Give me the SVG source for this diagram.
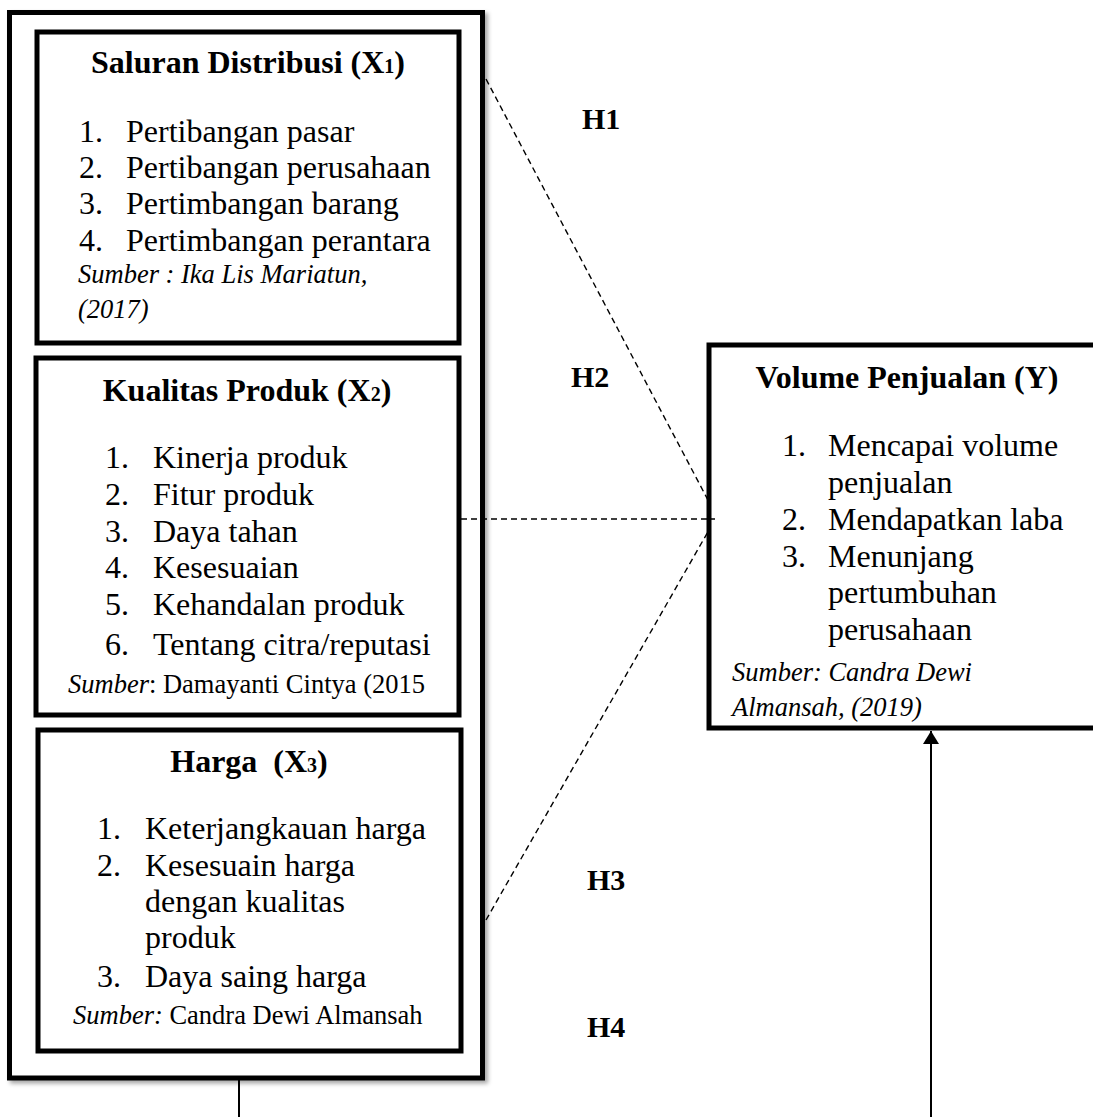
<svg xmlns="http://www.w3.org/2000/svg" width="1093" height="1117" viewBox="0 0 1093 1117">
<defs>
<filter id="shadow" x="-5%" y="-5%" width="115%" height="115%">
<feDropShadow dx="3" dy="3" stdDeviation="2" flood-color="#000" flood-opacity="0.35"/>
</filter>
<marker id="arrow" markerUnits="userSpaceOnUse" markerWidth="14" markerHeight="16" refX="13" refY="8" orient="auto" viewBox="0 0 14 16">
<path d="M0,0 L13,8 L0,16 Z" fill="#000"/>
</marker>
</defs>
<style>
text{font-family:"Liberation Serif","Times New Roman",serif;fill:#000}
.title{font-size:32px;font-weight:bold;text-anchor:middle}
.sub{font-size:20px}
.item{font-size:32px}
.src{font-size:26.5px}
.it{font-style:italic}
.hl{font-size:30px;font-weight:bold}
.box{fill:#fff;stroke:#000;stroke-width:5}
.dash{fill:none;stroke:#000;stroke-width:1.4;stroke-dasharray:6 4}
.solid{fill:none;stroke:#000;stroke-width:2}
</style>
<rect width="1093" height="1117" fill="#fff"/>

<g id="independent-variables">
<rect x="9.5" y="12.5" width="473" height="1065.5" class="box" filter="url(#shadow)"/>

<g id="saluran-distribusi">
<rect x="37" y="32" width="422" height="311" class="box"/>
<text x="248" y="73" class="title">Saluran Distribusi (X<tspan class="sub">1</tspan>)</text>
<text class="item"><tspan x="79" y="142">1.</tspan><tspan x="126" y="142">Pertibangan pasar</tspan></text>
<text class="item"><tspan x="79" y="178">2.</tspan><tspan x="126" y="178">Pertibangan perusahaan</tspan></text>
<text class="item"><tspan x="79" y="214">3.</tspan><tspan x="126" y="214">Pertimbangan barang</tspan></text>
<text class="item"><tspan x="79" y="251">4.</tspan><tspan x="126" y="251">Pertimbangan perantara</tspan></text>
<text x="78" y="283" class="src it">Sumber : Ika Lis Mariatun,</text>
<text x="78" y="318" class="src it">(2017)</text>
</g>

<g id="kualitas-produk">
<rect x="36" y="358" width="423" height="357" class="box"/>
<text x="247" y="401" class="title">Kualitas Produk (X<tspan class="sub">2</tspan>)</text>
<text class="item"><tspan x="105" y="468">1.</tspan><tspan x="153" y="468">Kinerja produk</tspan></text>
<text class="item"><tspan x="105" y="505">2.</tspan><tspan x="153" y="505">Fitur produk</tspan></text>
<text class="item"><tspan x="105" y="542">3.</tspan><tspan x="153" y="542">Daya tahan</tspan></text>
<text class="item"><tspan x="105" y="578">4.</tspan><tspan x="153" y="578">Kesesuaian</tspan></text>
<text class="item"><tspan x="105" y="615">5.</tspan><tspan x="153" y="615">Kehandalan produk</tspan></text>
<text class="item"><tspan x="105" y="655">6.</tspan><tspan x="153" y="655">Tentang citra/reputasi</tspan></text>
<text x="68" y="693" class="src"><tspan class="it">Sumber</tspan>: Damayanti Cintya (2015</text>
</g>

<g id="harga">
<rect x="38" y="730" width="423" height="321" class="box"/>
<text x="249" y="772" class="title" xml:space="preserve">Harga  (X<tspan class="sub">3</tspan>)</text>
<text class="item"><tspan x="97" y="839">1.</tspan><tspan x="145" y="839">Keterjangkauan harga</tspan></text>
<text class="item"><tspan x="97" y="876">2.</tspan><tspan x="145" y="876">Kesesuain harga</tspan></text>
<text x="145" y="912" class="item">dengan kualitas</text>
<text x="145" y="948" class="item">produk</text>
<text class="item"><tspan x="97" y="987">3.</tspan><tspan x="145" y="987">Daya saing harga</tspan></text>
<text x="73" y="1024" class="src"><tspan class="it">Sumber:</tspan> Candra Dewi Almansah</text>
</g>
</g>

<g id="volume-penjualan">
<rect x="709" y="345" width="392" height="383" class="box"/>
<text x="907" y="388" class="title">Volume Penjualan (Y)</text>
<text class="item"><tspan x="782" y="456">1.</tspan><tspan x="828" y="456">Mencapai volume</tspan></text>
<text x="828" y="493" class="item">penjualan</text>
<text class="item"><tspan x="782" y="530">2.</tspan><tspan x="828" y="530">Mendapatkan laba</tspan></text>
<text class="item"><tspan x="782" y="567">3.</tspan><tspan x="828" y="567">Menunjang</tspan></text>
<text x="828" y="603" class="item">pertumbuhan</text>
<text x="828" y="640" class="item">perusahaan</text>
<text x="732" y="681" class="src it">Sumber: Candra Dewi</text>
<text x="732" y="716" class="src it">Almansah, (2019)</text>
</g>

<g id="connectors">
<line id="h1-line" x1="486" y1="79" x2="709" y2="502" class="dash"/>
<line id="h2-line" x1="461" y1="519" x2="715" y2="519" class="dash"/>
<line id="h3-line" x1="486" y1="920" x2="709" y2="530" class="dash"/>
<line id="h4-left" x1="239" y1="1080" x2="239" y2="1117" class="solid"/>
<line id="h4-arrow" x1="931" y1="1117" x2="931" y2="731" class="solid" marker-end="url(#arrow)"/>
</g>

<g id="hypothesis-labels">
<text x="582" y="129" class="hl">H1</text>
<text x="571" y="387" class="hl">H2</text>
<text x="587" y="890" class="hl">H3</text>
<text x="587" y="1037" class="hl">H4</text>
</g>
</svg>
